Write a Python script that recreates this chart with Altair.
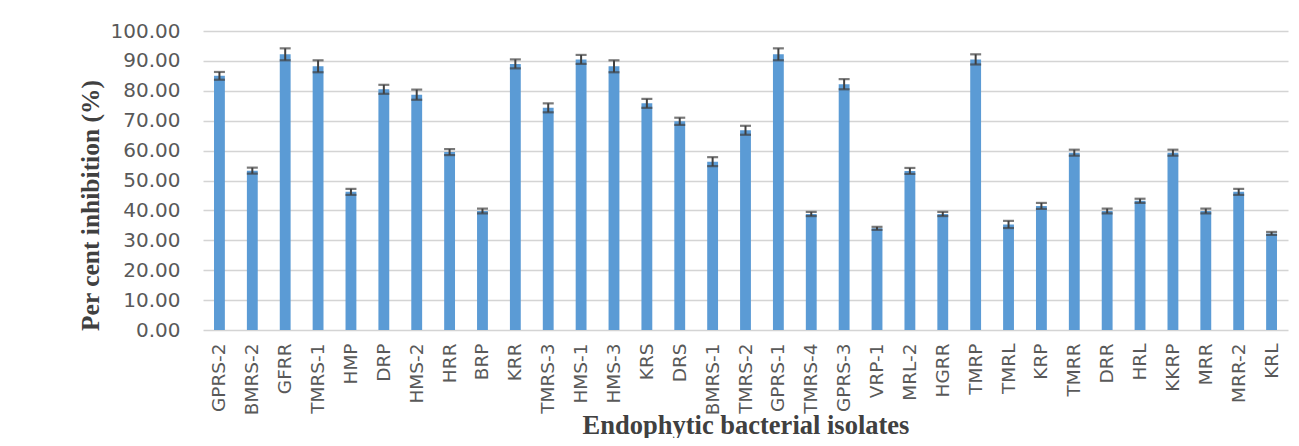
import altair as alt
import pandas as pd

isolates = ["GPRS-2", "BMRS-2", "GFRR", "TMRS-1", "HMP", "DRP", "HMS-2", "HRR", "BRP", "KRR",
            "TMRS-3", "HMS-1", "HMS-3", "KRS", "DRS", "BMRS-1", "TMRS-2", "GPRS-1", "TMRS-4",
            "GPRS-3", "VRP-1", "MRL-2", "HGRR", "TMRP", "TMRL", "KRP", "TMRR", "DRR", "HRL",
            "KKRP", "MRR", "MRR-2", "KRL"]
inhibition = [85.0, 53.3, 92.2, 88.2, 46.2, 80.5, 78.7, 59.5, 39.8, 89.0,
              74.3, 90.5, 88.2, 75.8, 69.8, 56.3, 66.8, 92.2, 38.8,
              82.2, 34.0, 53.2, 38.8, 90.5, 35.3, 41.5, 59.3, 39.8, 43.2,
              59.3, 39.8, 46.2, 32.3]
std_err = [1.3, 1.0, 2.0, 2.0, 1.0, 1.5, 1.7, 1.0, 0.8, 1.5,
           1.5, 1.5, 2.0, 1.5, 1.2, 1.5, 1.5, 2.0, 0.7,
           1.7, 0.5, 1.0, 0.7, 1.7, 1.2, 1.0, 1.0, 0.8, 0.7,
           1.0, 0.8, 1.0, 0.5]
y_ticks = [0, 10, 20, 30, 40, 50, 60, 70, 80, 90, 100]

df = pd.DataFrame({"isolate": isolates, "value": inhibition, "err": std_err})
df["lo"] = df["value"] - df["err"]
df["hi"] = df["value"] + df["err"]

x_axis = alt.Axis(
    title="Endophytic bacterial isolates",
    labelAngle=-90,
    labelFont="DejaVu Sans",
    labelFontSize=18.5,
    labelColor="#595959",
    labelPadding=13,
    ticks=False,
    domain=False,
    grid=False,
    titleFont="Liberation Serif",
    titleFontSize=26.5,
    titleFontWeight="bold",
    titleColor="#404040",
    titleBaseline="alphabetic",
    titleY=103,
)
x_scale = alt.Scale(paddingInner=0.67, paddingOuter=0.335)

y_axis = alt.Axis(
    title="Per cent inhibition (%)",
    values=y_ticks,
    tickCount=20,
    format=".2f",
    labelFont="DejaVu Sans",
    labelFontSize=20,
    labelColor="#595959",
    labelPadding=23,
    labelOverlap=False,
    ticks=False,
    domain=False,
    grid=True,
    gridColor="#d4d4d4",
    gridWidth=1.6,
    titleFont="Liberation Serif",
    titleFontSize=25.5,
    titleFontWeight="bold",
    titleColor="#404040",
    titleAngle=-90,
    titleBaseline="middle",
    titleAlign="center",
    titleX=-113,
    titleY=174,
)
y_scale = alt.Scale(domain=[0, 100], nice=False)


def xenc():
    return alt.X("isolate:N", sort=isolates, scale=x_scale, axis=x_axis)


bars = alt.Chart(df).mark_bar(color="#5B9BD5").encode(
    x=xenc(),
    y=alt.Y("value:Q", scale=y_scale, axis=y_axis),
)

rules = alt.Chart(df).mark_rule(color="#404040", strokeWidth=2).encode(
    x=xenc(),
    y=alt.Y("lo:Q", scale=y_scale, axis=y_axis),
    y2="hi:Q",
)

caps_hi = alt.Chart(df).mark_tick(color="#404040", size=11, thickness=2.2).encode(
    x=xenc(),
    y=alt.Y("hi:Q", scale=y_scale, axis=y_axis),
)
caps_lo = alt.Chart(df).mark_tick(color="#404040", size=11, thickness=2.2).encode(
    x=xenc(),
    y=alt.Y("lo:Q", scale=y_scale, axis=y_axis),
)

chart = (
    alt.layer(bars, rules, caps_hi, caps_lo)
    .properties(
        width=1085,
        height=299,
        padding={"left": 195, "top": 23, "right": 3, "bottom": 108},
        autosize=alt.AutoSizeParams(type="none"),
        background="white",
    )
    .configure_view(stroke=None)
)

chart.save("out.html", embed_options={"renderer": "svg", "actions": False})
